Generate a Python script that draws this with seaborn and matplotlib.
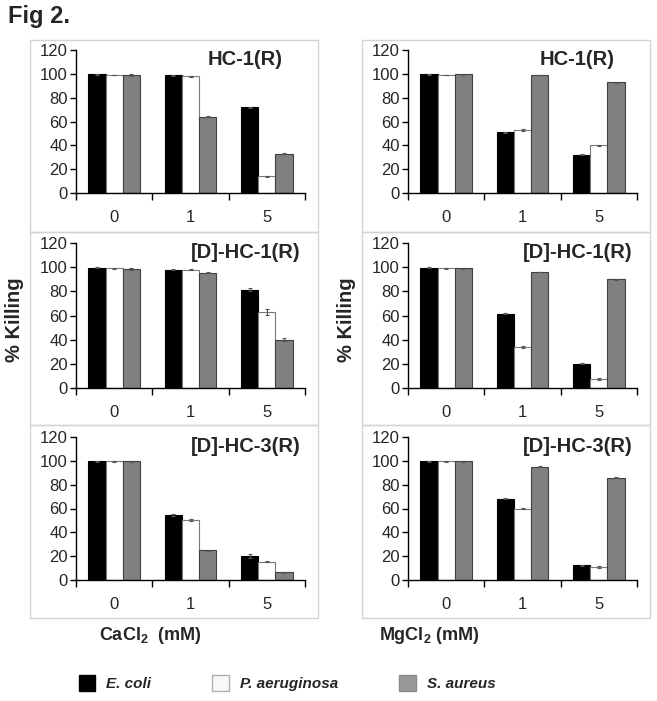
import matplotlib
matplotlib.use("Agg")
import matplotlib.pyplot as plt
from matplotlib.patches import Patch, Rectangle
import seaborn as sns
import numpy as np
import pandas as pd

species = ["E. coli", "P. aeruginosa", "S. aureus"]
concentrations = ["0", "1", "5"]
peptides = ["HC-1(R)", "[D]-HC-1(R)", "[D]-HC-3(R)"]

# % killing, one row per concentration (0, 1, 5 mM), one column per species
cacl2_hc1 = [[99.5, 99.0, 99.0], [99.0, 98.0, 64.0], [72.0, 14.0, 33.0]]
cacl2_d_hc1 = [[99.5, 99.0, 98.5], [98.0, 98.0, 95.5], [81.5, 63.0, 40.0]]
cacl2_d_hc3 = [[99.5, 99.5, 99.5], [54.5, 50.5, 25.0], [20.0, 15.5, 6.5]]
mgcl2_hc1 = [[99.5, 99.0, 99.5], [51.0, 53.0, 99.0], [32.0, 40.0, 93.0]]
mgcl2_d_hc1 = [[99.5, 99.0, 99.0], [61.5, 34.0, 96.0], [20.0, 7.5, 90.0]]
mgcl2_d_hc3 = [[99.5, 99.5, 99.5], [68.0, 60.0, 95.0], [12.5, 11.0, 86.0]]

# error bars (same layout)
cacl2_hc1_err = [[0.3, 0.3, 0.5], [0.4, 0.3, 0.6], [0.3, 0.5, 0.5]]
cacl2_d_hc1_err = [[0.3, 0.3, 0.5], [0.5, 0.5, 0.6], [1.5, 2.5, 1.5]]
cacl2_d_hc3_err = [[0.3, 0.3, 0.3], [0.5, 0.6, 0.3], [1.5, 0.8, 0.5]]
mgcl2_hc1_err = [[0.3, 0.3, 0.3], [0.6, 0.8, 0.3], [0.4, 0.3, 0.5]]
mgcl2_d_hc1_err = [[0.3, 0.3, 0.3], [0.5, 0.6, 0.3], [0.5, 0.6, 0.5]]
mgcl2_d_hc3_err = [[0.3, 0.3, 0.3], [0.4, 0.5, 0.4], [0.4, 1.0, 0.6]]

panels = [
    [(cacl2_hc1, cacl2_hc1_err), (mgcl2_hc1, mgcl2_hc1_err)],
    [(cacl2_d_hc1, cacl2_d_hc1_err), (mgcl2_d_hc1, mgcl2_d_hc1_err)],
    [(cacl2_d_hc3, cacl2_d_hc3_err), (mgcl2_d_hc3, mgcl2_d_hc3_err)],
]

bar_colors = ["#000000", "#ffffff", "#808080"]
edge_colors = ["#000000", "#7a7a7a", "#404040"]

sns.set_style("ticks")
plt.rcParams["font.family"] = ["Liberation Sans", "DejaVu Sans"]
plt.rcParams["mathtext.fontset"] = "custom"
plt.rcParams["mathtext.rm"] = "Liberation Sans:bold"
plt.rcParams["mathtext.bf"] = "Liberation Sans:bold"

W, H = 657, 701
fig = plt.figure(figsize=(W / 100, H / 100), dpi=100)


def fx(px):
    return px / W


def fy(py):
    return 1 - py / H


# axes extents in pixels (left, right) and (top, bottom)
col_x = [(76, 305), (408, 637)]
row_y = [(50, 193), (243, 388), (437, 580)]
box_x = [(30, 318), (362, 650)]
box_y = [(40, 232), (232, 425), (425, 618)]

for r in range(3):
    for c in range(2):
        bx0, bx1 = box_x[c]
        by0, by1 = box_y[r]
        fig.add_artist(
            Rectangle(
                (fx(bx0), fy(by1)),
                fx(bx1 - bx0),
                (by1 - by0) / H,
                transform=fig.transFigure,
                fill=False,
                edgecolor="#d4d4d4",
                linewidth=1,
            )
        )

        x0, x1 = col_x[c]
        y0, y1 = row_y[r]
        ax = fig.add_axes([fx(x0), fy(y1), fx(x1 - x0), (y1 - y0) / H])

        vals, errs = panels[r][c]
        df = pd.DataFrame(
            [
                {"conc": conc, "species": sp, "kill": vals[i][j]}
                for i, conc in enumerate(concentrations)
                for j, sp in enumerate(species)
            ]
        )
        sns.barplot(
            data=df,
            x="conc",
            y="kill",
            hue="species",
            order=concentrations,
            hue_order=species,
            palette=bar_colors,
            width=0.68,
            errorbar=None,
            legend=False,
            saturation=1,
            ax=ax,
        )

        bar_groups = list(ax.containers)
        for j, cont in enumerate(bar_groups):
            for i, bar in enumerate(cont.patches):
                bar.set_edgecolor(edge_colors[j])
                bar.set_linewidth(0.8)
                ax.errorbar(
                    bar.get_x() + bar.get_width() / 2,
                    bar.get_height(),
                    yerr=errs[i][j],
                    fmt="none",
                    ecolor="#555555",
                    elinewidth=0.8,
                    capsize=1.5,
                    capthick=0.8,
                )

        ax.set_xlim(-0.5, 2.5)
        ax.set_ylim(0, 120)
        ax.set_yticks(np.arange(0, 121, 20))
        ax.set_xticks(range(3))
        ax.set_xticklabels(concentrations)
        ax.set_xticks([-0.5, 0.5, 1.5, 2.5], minor=True)
        ax.tick_params(axis="x", which="major", length=0, pad=12, labelsize=12)
        ax.tick_params(axis="x", which="minor", length=5, width=1, color="black")
        ax.tick_params(axis="y", length=4, width=1, color="black", labelsize=12, pad=2)
        ax.set_xlabel("")
        ax.set_ylabel("")
        sns.despine(ax=ax)
        for s in ["left", "bottom"]:
            ax.spines[s].set_color("black")
            ax.spines[s].set_linewidth(1)

        ax.text(
            0.74,
            0.935,
            peptides[r],
            transform=ax.transAxes,
            ha="center",
            va="center",
            fontsize=14.5,
            fontweight="bold",
        )

fig.text(fx(8), fy(23), "Fig 2.", fontsize=17, fontweight="bold", ha="left", va="baseline")

for xpos in [14, 347]:
    fig.text(
        fx(xpos),
        fy(320),
        "% Killing",
        rotation=90,
        fontsize=14.5,
        fontweight="bold",
        ha="center",
        va="center",
    )

fig.text(fx(150), fy(635), r"CaCl$_\mathbf{2}$  (mM)", fontsize=13, fontweight="bold",
         ha="center", va="center")
fig.text(fx(429), fy(635), r"MgCl$_\mathbf{2}$ (mM)", fontsize=13, fontweight="bold",
         ha="center", va="center")

handles = [
    Patch(facecolor="#000000", edgecolor="#000000"),
    Patch(facecolor="#f8f8f8", edgecolor="#b0b0b0"),
    Patch(facecolor="#999999", edgecolor="#8a8a8a"),
]
fig.legend(
    handles=handles,
    labels=species,
    loc="center",
    bbox_to_anchor=(fx(287), fy(683)),
    ncol=3,
    frameon=False,
    prop=dict(family="Liberation Sans", weight="bold", style="italic", size=11),
    handlelength=1.1,
    handleheight=1.3,
    handletextpad=0.7,
    columnspacing=4.0,
)

fig.savefig("out.png", dpi=100)
